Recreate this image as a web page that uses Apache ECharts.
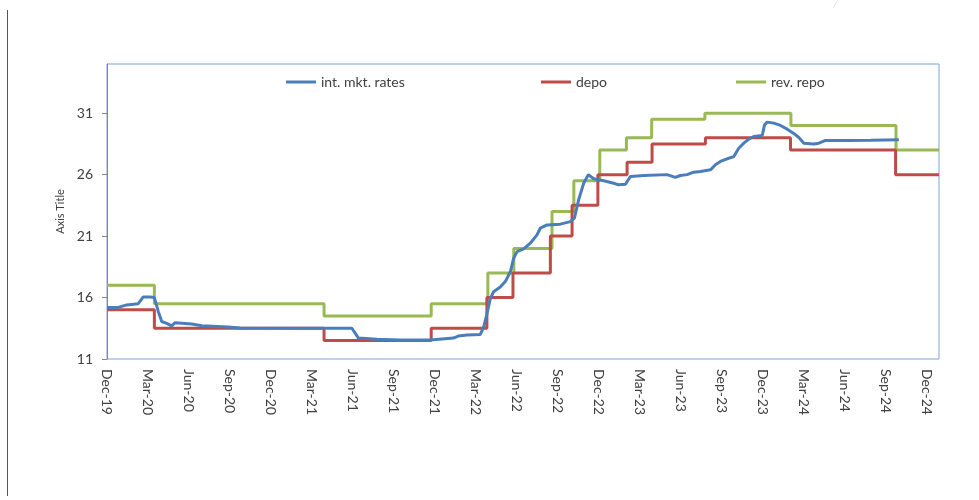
<!DOCTYPE html>
<html>
<head>
<meta charset="utf-8">
<script src="https://cdn.jsdelivr.net/npm/echarts@6/dist/echarts.min.js"></script>
<style>
  html, body { margin: 0; padding: 0; background: #ffffff; }
  #chart { width: 979px; height: 500px; }
</style>
</head>
<body>
<div id="chart"></div>
<script>
// x values are months counted from Dec-2019 (0 = Dec-19, 3 = Mar-20, ...)
const quarterLabels = ['Dec-19','Mar-20','Jun-20','Sep-20','Dec-20','Mar-21','Jun-21','Sep-21','Dec-21',
  'Mar-22','Jun-22','Sep-22','Dec-22','Mar-23','Jun-23','Sep-23','Dec-23','Mar-24','Jun-24','Sep-24','Dec-24'];
const quarterPositions = quarterLabels.map((_, i) => i * 3);
const yTicks = [11, 16, 21, 26, 31];

// interbank market rates: [month, rate]
const intMktRates = [
  [0, 15.2], [0.83, 15.2], [1.44, 15.4], [2.29, 15.5], [2.66, 16.05], [3.15, 16.05], [3.47, 16.0],
  [3.76, 14.85], [4.01, 14.05], [4.38, 13.9], [4.74, 13.7], [4.99, 13.95], [6.21, 13.85], [6.94, 13.7],
  [8.87, 13.6], [9.75, 13.52], [15.84, 13.5], [17.94, 13.5], [18.42, 12.7], [19.77, 12.6], [21.48, 12.55],
  [23.68, 12.55], [25.37, 12.7], [25.73, 12.87], [26.37, 12.95], [27.35, 13.0], [27.59, 13.6], [27.84, 14.7],
  [28.08, 15.9], [28.32, 16.48], [28.81, 16.85], [29.18, 17.3], [29.55, 18.1], [29.79, 19.2], [30.04, 19.74],
  [30.52, 19.96], [31.01, 20.42], [31.5, 21.1], [31.74, 21.64], [32.24, 21.91], [33.21, 21.97], [33.94, 22.18],
  [34.24, 22.46], [34.55, 23.95], [34.92, 25.3], [35.26, 26.0], [35.65, 25.66], [36.39, 25.5], [37.12, 25.3],
  [37.49, 25.17], [37.98, 25.22], [38.34, 25.85], [39.32, 25.93], [41.03, 26.0], [41.64, 25.77], [42.0, 25.93],
  [42.5, 26.0], [42.98, 26.2], [43.48, 26.26], [44.21, 26.39], [44.57, 26.8], [44.94, 27.07], [45.43, 27.29],
  [45.92, 27.47], [46.28, 28.15], [46.65, 28.56], [47.02, 28.89], [47.38, 29.1], [48.0, 29.18], [48.17, 30.05],
  [48.36, 30.27], [48.85, 30.19], [49.34, 30.0], [49.83, 29.7], [50.31, 29.35], [50.68, 29.02], [51.05, 28.56],
  [51.78, 28.5], [52.15, 28.56], [52.64, 28.78], [54.23, 28.78], [55.94, 28.8], [58.01, 28.83]
];

// deposit facility rate: [month it takes effect, rate]
const depo = [
  [0, 15], [3.47, 13.5], [15.9, 12.5], [23.75, 13.5], [27.83, 16], [29.74, 18], [32.48, 21], [34.07, 23.5],
  [35.96, 26], [38.1, 27], [39.93, 28.5], [43.84, 29], [50.07, 28], [57.77, 26], [60.95, 26]
];

// reverse repo rate: [month it takes effect, rate]
const revRepo = [
  [0, 17], [3.47, 15.5], [15.9, 14.5], [23.75, 15.5], [27.9, 18], [29.8, 20], [32.6, 23], [34.2, 25.5],
  [36.1, 28], [38.05, 29], [39.9, 30.5], [43.8, 31], [50.1, 30], [57.8, 28], [60.95, 28]
];

const FONT = 'Lato, "Open Sans", sans-serif';
const TEXT = '#404040';

const chart = echarts.init(document.getElementById('chart'), null, { renderer: 'canvas' });

const legendCommon = {
  icon: 'rect', itemWidth: 30, itemHeight: 3, top: 70,
  textStyle: { fontFamily: FONT, fontSize: 14, color: TEXT }
};

chart.setOption({
  animation: false,
  backgroundColor: '#ffffff',
  grid: {
    left: 107, right: 40, top: 64, bottom: 141,
    show: true, borderColor: '#7EA3D6', borderWidth: 1, backgroundColor: 'transparent'
  },
  legend: [
    Object.assign({ left: 281, data: ['int. mkt. rates'] }, legendCommon),
    Object.assign({ left: 536, data: ['depo'] }, legendCommon),
    Object.assign({ left: 731, data: ['rev. repo'] }, legendCommon)
  ],
  xAxis: {
    type: 'value', min: 0, max: 60.95,
    axisLine: { show: false },
    axisTick: { show: false },
    splitLine: { show: false },
    axisLabel: {
      customValues: quarterPositions,
      rotate: -90, margin: 10,
      fontFamily: FONT, fontSize: 14, color: TEXT,
      formatter: v => quarterLabels[Math.round(v / 3)] || ''
    }
  },
  yAxis: {
    type: 'value', min: 11, max: 35,
    name: 'Axis Title', nameLocation: 'middle', nameGap: 34, nameRotate: 90,
    nameTextStyle: { fontFamily: FONT, fontSize: 11, color: TEXT },
    axisLine: { show: true, lineStyle: { color: '#868686', width: 1 } },
    axisTick: { show: true, customValues: yTicks, length: 5, lineStyle: { color: '#868686' } },
    splitLine: { show: false },
    axisLabel: {
      customValues: yTicks, margin: 14,
      fontFamily: FONT, fontSize: 14, color: TEXT
    }
  },
  series: [
    {
      name: 'int. mkt. rates', type: 'line', data: intMktRates,
      showSymbol: false, symbol: 'none', color: '#4A7EBB',
      lineStyle: { width: 3, color: '#4A7EBB' }, z: 3
    },
    {
      name: 'depo', type: 'line', data: depo, step: 'end',
      showSymbol: false, symbol: 'none', color: '#BE4B48',
      lineStyle: { width: 3, color: '#BE4B48' }, z: 2
    },
    {
      name: 'rev. repo', type: 'line', data: revRepo, step: 'end',
      showSymbol: false, symbol: 'none', color: '#98B954',
      lineStyle: { width: 3, color: '#98B954' }, z: 1
    }
  ],
  graphic: [
    { type: 'line', shape: { x1: 7.5, y1: 10, x2: 7.5, y2: 496 }, style: { stroke: '#555555', lineWidth: 1 } },
    { type: 'line', shape: { x1: 838, y1: 0, x2: 833, y2: 8 }, style: { stroke: '#e6e6e6', lineWidth: 1 } }
  ]
});
</script>
</body>
</html>
